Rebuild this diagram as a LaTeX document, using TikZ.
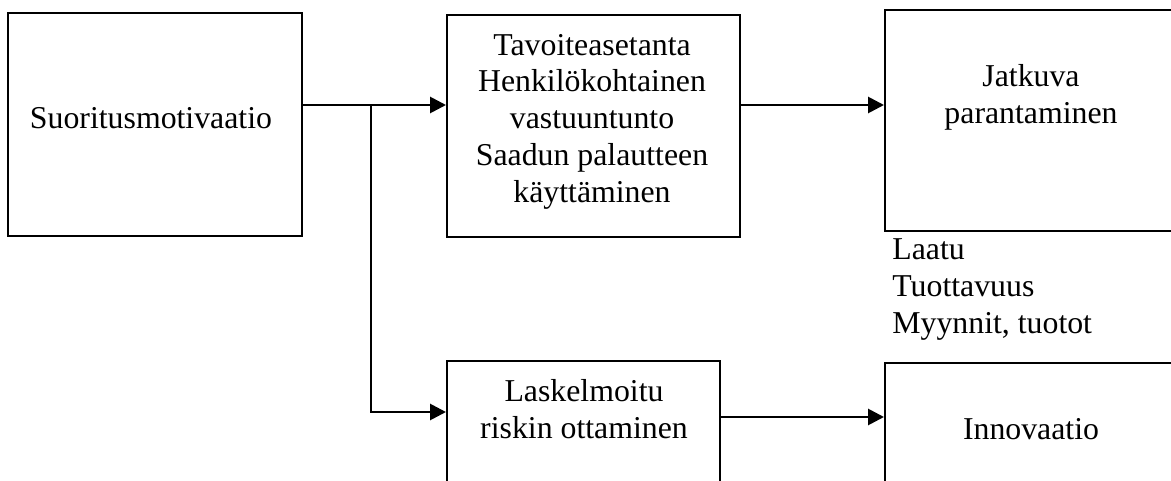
\documentclass[tikz,border=0pt]{standalone}
\usepackage{fontspec}
\setmainfont{Liberation Serif}
\usetikzlibrary{arrows.meta}
\tikzset{
  box/.style={draw, line width=1pt, rectangle, inner sep=0pt},
  txt/.style={align=center, inner sep=0pt, anchor=base,
    font=\fontsize{15.9pt}{18.35pt}\selectfont},
  flow/.style={line width=1.4pt, -{Triangle[length=8pt,width=8pt]}},
}
\begin{document}
\begin{tikzpicture}[x=0.5pt,y=-0.5pt]
\useasboundingbox (0,0) rectangle (1171,481);
\clip (0,0) rectangle (1171,481);

% boxes
\node[box, minimum width=147pt, minimum height=111.5pt] (b1) at (155,124.5) {};
\node[box, minimum width=146.5pt, minimum height=111pt] (b2) at (593.5,126) {};
\node[box, minimum width=147pt, minimum height=110.5pt] (b3) at (1032,120.5) {};
\node[box, minimum width=136.5pt, minimum height=80pt] (b4) at (583.5,441) {};
\node[box, minimum width=147pt, minimum height=80pt] (b5) at (1032,443) {};

% texts (anchored at the baseline of their last line)
\node[txt] (t1) at (151,128) {Suoritusmotivaatio};
\node[txt] (t2) at (592,202) {Tavoiteasetanta\\Henkilökohtainen\\vastuuntunto\\Saadun palautteen\\käyttäminen};
\node[txt] (t3) at (1031,123) {Jatkuva\\parantaminen};
\node[txt, align=left, anchor=base west] (t4) at (892,333) {Laatu\\Tuottavuus\\Myynnit, tuotot};
\node[txt] (t5) at (584,438) {Laskelmoitu\\riskin ottaminen};
\node[txt] (t6) at (1031,439) {Innovaatio};

% connectors
\coordinate (j1) at (371,105);
\coordinate (j2) at (371,412);
\coordinate (j3) at (800,417);
\draw[flow] (b1.east |- j1) -- (b2.west |- j1);
\draw[flow] (b2.east |- j1) -- (b3.west |- j1);
\draw[flow] (j1) -- (j2) -- (b4.west |- j2);
\draw[flow] (b4.east |- j3) -- (b5.west |- j3);
\end{tikzpicture}
\end{document}
